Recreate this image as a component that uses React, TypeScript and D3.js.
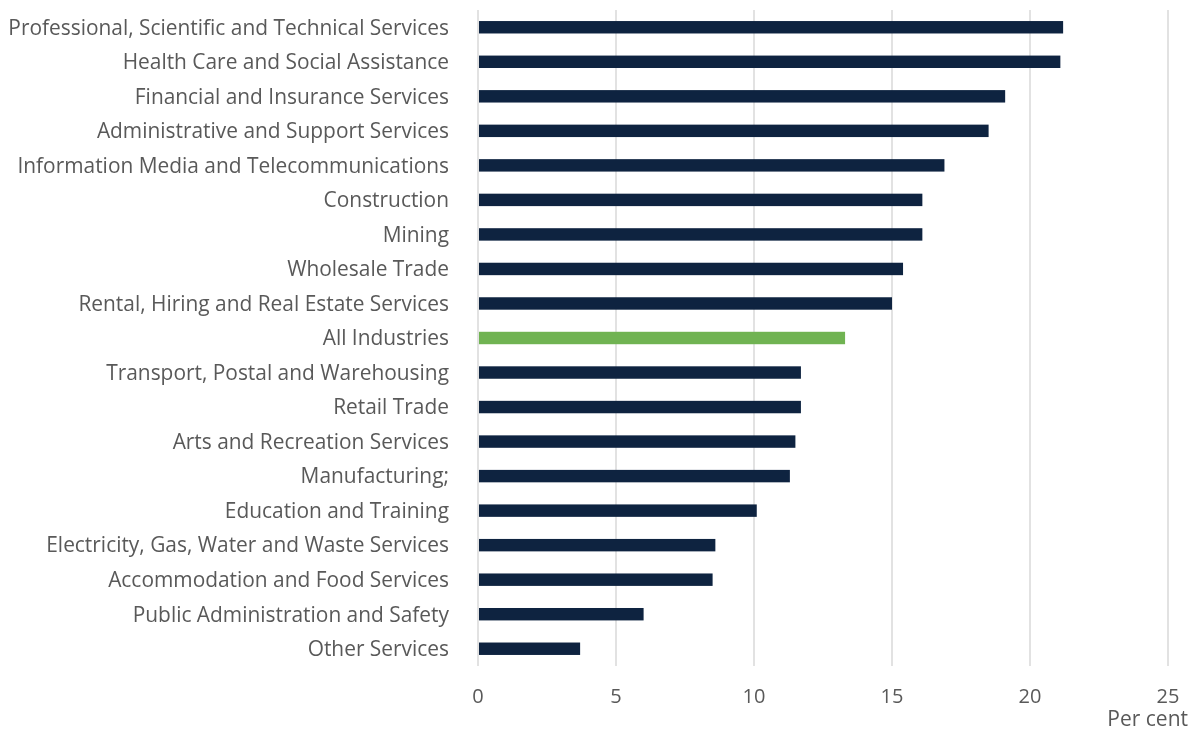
import React, { useEffect, useRef } from "react";
import * as d3 from "d3";

// industries, top to bottom
const industries = [
  "Professional, Scientific and Technical Services",
  "Health Care and Social Assistance",
  "Financial and Insurance Services",
  "Administrative and Support Services",
  "Information Media and Telecommunications",
  "Construction",
  "Mining",
  "Wholesale Trade",
  "Rental, Hiring and Real Estate Services",
  "All Industries",
  "Transport, Postal and Warehousing",
  "Retail Trade",
  "Arts and Recreation Services",
  "Manufacturing;",
  "Education and Training",
  "Electricity, Gas, Water and Waste Services",
  "Accommodation and Food Services",
  "Public Administration and Safety",
  "Other Services",
];

const perCent = [
  21.2, 21.1, 19.1, 18.5, 16.9, 16.1, 16.1, 15.4, 15.0, 13.3, 11.7, 11.7, 11.5,
  11.3, 10.1, 8.6, 8.5, 6.0, 3.7,
];

const xTicks = [0, 5, 10, 15, 20, 25];
const highlight = "All Industries";

export default function App() {
  const svgRef = useRef<SVGSVGElement>(null);

  useEffect(() => {
    const width = 1192;
    const height = 731;
    const margin = { top: 10, right: 24, bottom: 65, left: 478 };
    const innerW = width - margin.left - margin.right;
    const innerH = height - margin.top - margin.bottom;
    const font = "'Open Sans', sans-serif";
    const textColor = "#595959";

    const svg = d3.select(svgRef.current);
    svg.selectAll("*").remove();
    svg.attr("width", width).attr("height", height);

    const g = svg.append("g").attr("transform", `translate(${margin.left},${margin.top})`);

    const x = d3.scaleLinear().domain([0, 25]).range([0, 690]);
    const y = d3.scaleBand().domain(industries).range([0, innerH]).paddingInner(0.64).paddingOuter(0.32);

    // gridlines
    g.append("g")
      .selectAll("line")
      .data(xTicks)
      .join("line")
      .attr("x1", (d) => x(d))
      .attr("x2", (d) => x(d))
      .attr("y1", 0)
      .attr("y2", innerH)
      .attr("stroke", "#d9d9d9")
      .attr("stroke-width", 1.5);

    // bars
    g.append("g")
      .selectAll("rect")
      .data(industries)
      .join("rect")
      .attr("x", x(0) + 1)
      .attr("y", (d) => y(d)!)
      .attr("width", (d, i) => x(perCent[i]) - x(0) - 1)
      .attr("height", y.bandwidth())
      .attr("fill", (d) => (d === highlight ? "#70b352" : "#0e2340"));

    // category labels
    g.append("g")
      .selectAll("text")
      .data(industries)
      .join("text")
      .attr("x", -29)
      .attr("y", (d) => y(d)! + y.bandwidth() / 2)
      .attr("dy", "0.35em")
      .attr("text-anchor", "end")
      .attr("fill", textColor)
      .style("font", `20.9px ${font}`)
      .text((d) => d);

    // x axis tick labels
    g.append("g")
      .selectAll("text")
      .data(xTicks)
      .join("text")
      .attr("x", (d) => x(d))
      .attr("y", innerH + 30)
      .attr("dy", "0.35em")
      .attr("text-anchor", "middle")
      .attr("fill", textColor)
      .style("font", `20px ${font}`)
      .text((d) => d);

    g.append("text")
      .attr("x", innerW + 20)
      .attr("y", innerH + 53)
      .attr("dy", "0.35em")
      .attr("text-anchor", "end")
      .attr("fill", textColor)
      .style("font", `21px ${font}`)
      .text("Per cent");
  }, []);

  return (
    <div style={{ position: "fixed", top: 0, left: 0, width: 1192, height: 731, overflow: "hidden" }}>
      <svg ref={svgRef} style={{ display: "block" }} />
    </div>
  );
}
